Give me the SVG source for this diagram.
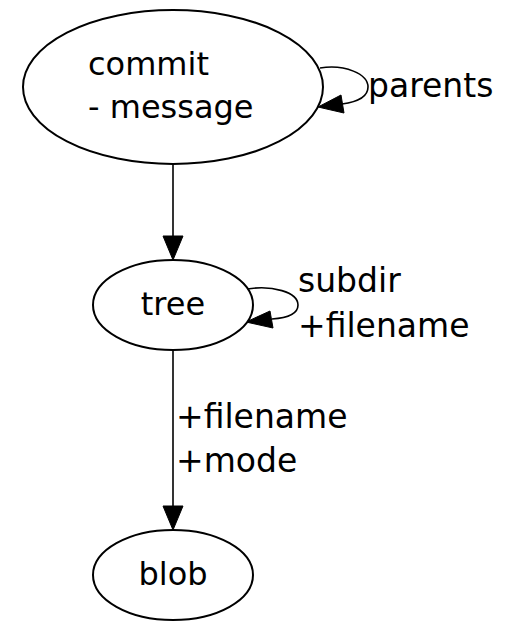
<svg xmlns="http://www.w3.org/2000/svg" width="516" height="622" viewBox="0 0 516 622">
  <style>
    .node { fill: #ffffff; stroke: #000000; stroke-width: 2; }
    .edge { fill: none; stroke: #000000; stroke-width: 1.6; }
    .head { fill: #000000; stroke: #000000; stroke-width: 1; }
    text { font-family: "DejaVu Sans", "Liberation Sans", sans-serif; font-size: 32px; fill: #000000; }
    .label { font-size: 33px; }
  </style>
  <rect width="516" height="622" fill="#ffffff"/>

  <!-- connectors -->
  <g id="edges">
    <g id="commit_parents">
      <path class="edge" d="M320,68 C345,64 368,74 368,87 C368,97 357,102 342,104"/>
      <polygon class="head" points="318,107 341,95 344,113"/>
      <text class="label" x="368" y="97">parents</text>
    </g>
    <g id="commit_tree">
      <path class="edge" d="M173,164 L173,237"/>
      <polygon class="head" points="173,260 163,236 183,236"/>
    </g>
    <g id="tree_subdir">
      <path class="edge" d="M247,289 C272,285 298,292 298,305 C298,314 287,318 272,319"/>
      <polygon class="head" points="246,322 270,311 273,328"/>
      <text class="label" x="298" y="292">subdir</text>
      <text class="label" x="298" y="337">+filename</text>
    </g>
    <g id="tree_blob">
      <path class="edge" d="M173,350 L173,507"/>
      <polygon class="head" points="173,530 163,506 183,506"/>
      <text class="label" x="176" y="428">+filename</text>
      <text class="label" x="176" y="472">+mode</text>
    </g>
  </g>

  <!-- nodes -->
  <g id="commit">
    <ellipse class="node" cx="173" cy="87" rx="150" ry="77"/>
    <text x="88" y="75">commit</text>
    <text x="88" y="118">- message</text>
  </g>
  <g id="tree">
    <ellipse class="node" cx="173" cy="305" rx="80" ry="45"/>
    <text x="173" y="315" text-anchor="middle">tree</text>
  </g>
  <g id="blob">
    <ellipse class="node" cx="173" cy="575" rx="80" ry="45"/>
    <text x="173" y="585" text-anchor="middle">blob</text>
  </g>
</svg>
